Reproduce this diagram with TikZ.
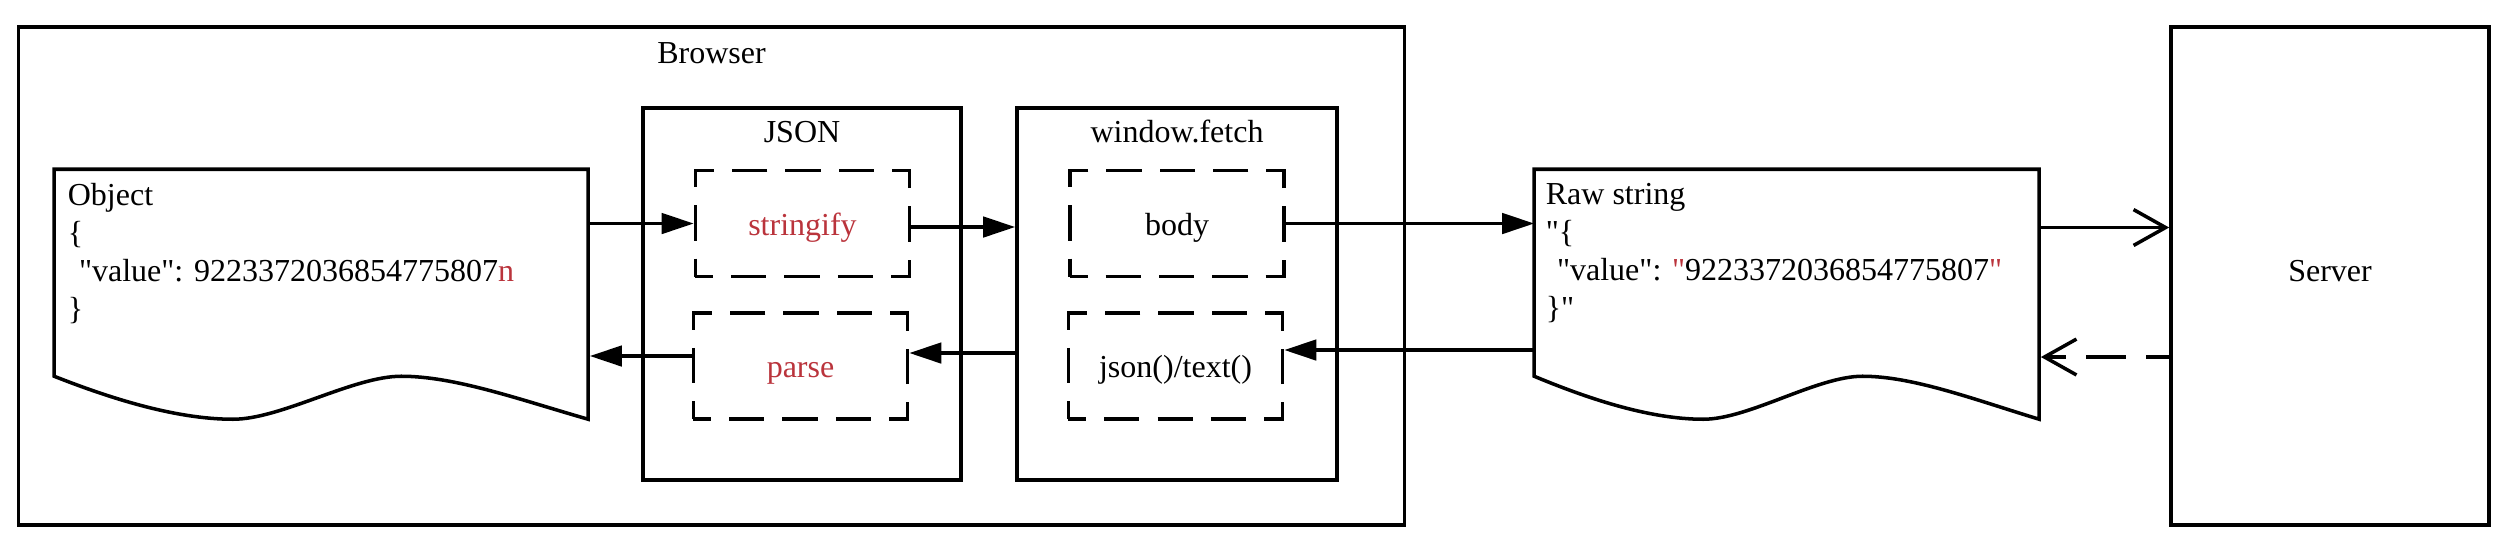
\documentclass[tikz,border=0pt]{standalone}
\usepackage{fontspec}
\setmainfont{Liberation Serif}[Ligatures=TeXOff]
\usetikzlibrary{arrows.meta, calc}
\definecolor{jsred}{RGB}{186,52,60}
\tikzset{
  every node/.style={font=\fontsize{9.1pt}{10.8pt}\selectfont},
  box/.style={draw, line width=1pt, inner sep=0pt},
  stage/.style={draw, line width=1pt, dash pattern=on 10.05pt off 5.12pt, dash phase=5.02pt,
      minimum width=2.14cm, minimum height=1.06cm, inner sep=0pt, text height=0.66em, text depth=0pt},
  doc/.style={minimum width=#1, minimum height=2.5cm, inner sep=0pt},
  doctext/.style={anchor=north west, align=left, inner sep=0pt},
  title/.style={anchor=base, inner sep=0pt},
  flow/.style={line width=1pt, -{Triangle[length=9.1pt, width=5.8pt]}},
  reply/.style={line width=1pt, -{Straight Barb[length=9.1pt, width=10.2pt]}},
}
% outline of a document shape (wavy bottom), #2 = width in px
\newcommand{\docedge}[2]{%
  \begin{scope}[shift={(#1.north west)}, xscale=#2/100]
    \draw[line width=1pt] (0,207) -- (0,0) -- (100,0) -- (100,250)
      .. controls +(-13,-20) and +(10,0) .. (65,207)
      .. controls +(-9,0) and +(9,0) .. (33.5,250)
      .. controls +(-11,0) and +(10,21) .. (0,207) -- cycle;
  \end{scope}
}

\begin{document}
\begin{tikzpicture}[x=0.01cm, y=-0.01cm]
  \useasboundingbox (0,0) rectangle (2516,550);

  % browser side
  \node[box, minimum width=13.85cm, minimum height=4.98cm] (browser) at (711.5,276) {};
  \node[title] (browserlbl) at (711.5,63) {Browser};

  \node[doc=5.34cm] (obj) at (322,295) {};
  \docedge{obj}{534}
  \node[doctext] (objtxt) at ($(obj.north west)+(13,13)$)
    {Object\\\{\\\hspace*{0.35em}"value": 9223372036854775807{\color{jsred}n}\\\}};

  \node[box, minimum width=3.18cm, minimum height=3.72cm] (json) at (802,294) {};
  \node[title] (jsonlbl) at (802,142.5) {JSON};
  \node[stage, text=jsred] (stringify) at (802.5,223.5) {stringify};
  \node[stage, text=jsred] (parse) at (800.5,366) {parse};

  \node[box, minimum width=3.2cm, minimum height=3.72cm] (fetch) at (1177,294) {};
  \node[title] (fetchlbl) at (1177,142.5) {window.fetch};
  \node[stage] (body) at (1177,223.5) {body};
  \node[stage] (jsontext) at (1175.5,366) {json()/text()};

  % wire and server
  \node[doc=5.05cm] (raw) at (1787.5,295) {};
  \docedge{raw}{505}
  \node[doctext] (rawtxt) at ($(raw.north west)+(11,13)$)
    {Raw string\\"\{\\\hspace*{0.35em}"value": {\color{jsred}"}9223372036854775807{\color{jsred}"}\\\}"};

  \node[box, minimum width=3.18cm, minimum height=4.98cm, text height=0.66em, text depth=0.33em]
    (server) at (2330,276) {Server};

  % outgoing
  \draw[flow] (obj.east |- stringify.west) -- (stringify.west);
  \draw[flow] ($(stringify.east)+(0,3.5)$) -- ($(stringify.east -| fetch.west)+(0,3.5)$);
  \draw[flow] (body.east) -- (body.east -| raw.west);
  \draw[reply] ($(raw.east |- body.east)+(0,4)$) -- ($(server.west |- body.east)+(0,4)$);

  % incoming
  \draw[reply, dash pattern=on 11.4pt off 5.7pt, dash phase=4.8pt]
    ($(server.west |- jsontext.east)+(0,-9)$) -- ($(raw.east |- jsontext.east)+(0,-9)$);
  \draw[flow] ($(raw.west |- jsontext.east)+(0,-16)$) -- ($(jsontext.east)+(0,-16)$);
  \draw[flow] ($(fetch.west |- parse.east)+(0,-13)$) -- ($(parse.east)+(0,-13)$);
  \draw[flow] ($(parse.west)+(0,-10)$) -- ($(obj.east |- parse.west)+(0,-10)$);
\end{tikzpicture}
\end{document}
